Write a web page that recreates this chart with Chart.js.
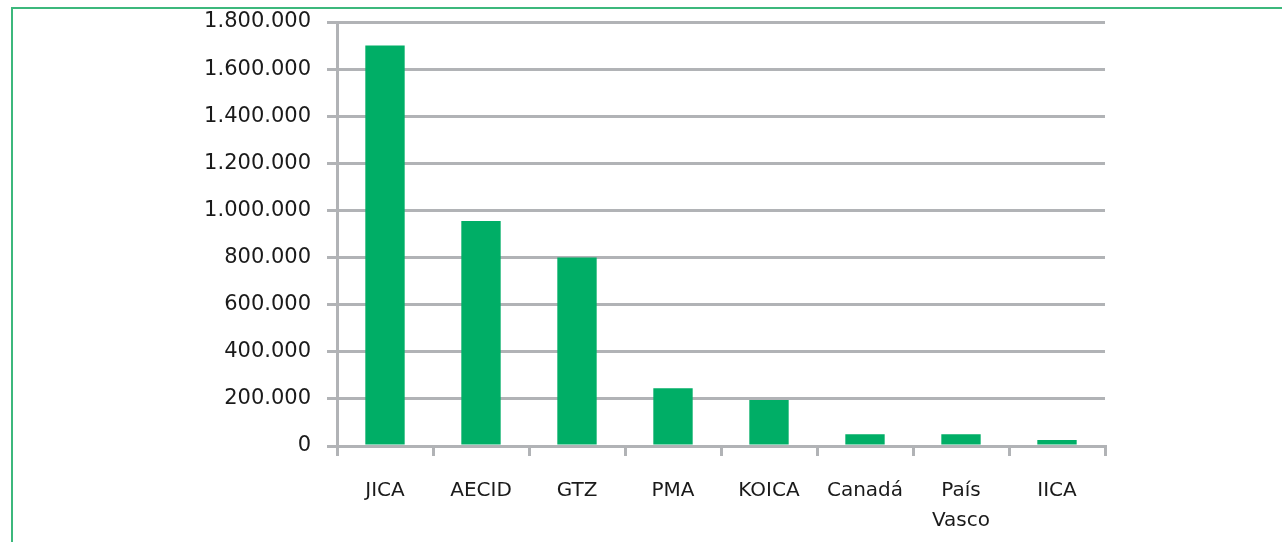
<!DOCTYPE html>
<html lang="es">
<head>
  <meta charset="UTF-8">
  <title>Cooperación por donante</title>
  <script src="https://cdn.jsdelivr.net/npm/chart.js"></script>
  <style>
    html, body {
      margin: 0;
      padding: 0;
      background: #fff;
      overflow: hidden;
    }

    #frame {
      position: absolute;
      left: 11px;
      top: 7px;
      width: 1300px;
      height: 600px;
      border: 2px solid #3cb87c;
    }

    .chart-box {
      position: absolute;
      left: 0;
      top: 0;
      width: 1282px;
      height: 542px;
    }
  </style>
</head>
<body>
  <div id="frame"></div>
  <div class="chart-box">
    <canvas id="donorChart"></canvas>
  </div>

  <script>
    const donors = ['JICA', 'AECID', 'GTZ', 'PMA', 'KOICA', 'Canadá', ['País', 'Vasco'], 'IICA'];
    const amounts = [1700000, 955000, 800000, 245000, 195000, 50000, 50000, 25000];
    const yTicks = [0, 200000, 400000, 600000, 800000, 1000000, 1200000, 1400000, 1600000, 1800000];

    const gridGray = '#b1b3b6';

    // thousands with dots, e.g. 1.800.000
    function formatDots(v) {
      return String(v).replace(/\B(?=(\d{3})+(?!\d))/g, '.');
    }

    const ctx = document.getElementById('donorChart').getContext('2d');

    new Chart(ctx, {
      type: 'bar',
      data: {
        labels: donors,
        datasets: [{
          data: amounts,
          backgroundColor: '#00ae66',
          borderWidth: 0,
          categoryPercentage: 1,
          barPercentage: 0.41
        }]
      },
      options: {
        responsive: true,
        maintainAspectRatio: false,
        animation: false,
        layout: {
          padding: { left: 0, top: 22, right: 177, bottom: 0 }
        },
        plugins: {
          legend: { display: false },
          tooltip: { enabled: false }
        },
        scales: {
          x: {
            afterFit: s => { s.height = 96; s.paddingLeft = 0; s.paddingRight = 0; },
            grid: {
              drawOnChartArea: false,
              drawTicks: true,
              tickLength: 10,
              color: gridGray,
              lineWidth: 3,
              offset: true
            },
            border: { color: gridGray, width: 3 },
            ticks: {
              color: '#1a1a1a',
              padding: 20,
              maxRotation: 0,
              autoSkip: false,
              font: { family: 'DejaVu Sans', size: 20, lineHeight: 1.5 }
            }
          },
          y: {
            min: 0,
            max: 1800000,
            afterFit: s => { s.width = 337; s.paddingTop = 0; s.paddingBottom = 0; },
            afterBuildTicks: s => { s.ticks = yTicks.map(v => ({ value: v })); },
            grid: {
              color: gridGray,
              lineWidth: 3,
              tickLength: 10
            },
            border: { color: gridGray, width: 3 },
            ticks: {
              color: '#1a1a1a',
              padding: 16,
              font: { family: 'DejaVu Sans', size: 21 },
              callback: v => formatDots(v)
            }
          }
        }
      }
    });
  </script>
</body>
</html>
